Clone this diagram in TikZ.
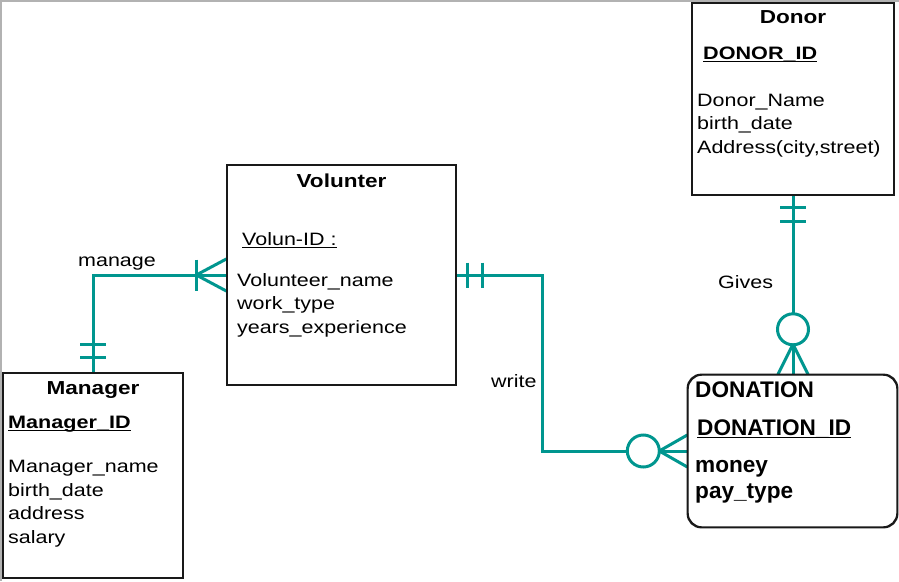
\documentclass[tikz,border=0pt]{standalone}
\usepackage{fontspec}
\usetikzlibrary{calc}
\newfontfamily\erfont[FakeStretch=1.2]{Liberation Sans}
\newfontfamily\dnfont{Liberation Sans}
\definecolor{relteal}{RGB}{0,150,143}
\newcommand\ulid[1]{\setbox0\hbox{#1}\rlap{\rule[-3.3pt]{\wd0}{1.2pt}}\box0}
\tikzset{
  ebox/.style={draw=black!90, line width=1.4pt, fill=white, inner sep=0pt},
  rel/.style={draw=relteal, line width=3pt},
  relc/.style={draw=relteal, line width=3pt, fill=white},
  txt/.style={inner sep=0pt, anchor=base west, font=\erfont\fontsize{17.9}{20}\selectfont, text=black},
  ttl/.style={inner sep=0pt, anchor=base, font=\erfont\bfseries\fontsize{18.8}{20}\selectfont, text=black},
  key/.style={txt, font=\erfont\bfseries\fontsize{18}{20}\selectfont},
  dtxt/.style={inner sep=0pt, anchor=base west, font=\dnfont\bfseries\fontsize{22.6}{24}\selectfont, text=black},
}
\begin{document}
\begin{tikzpicture}[x=1pt,y=-1pt]
\useasboundingbox (0,0) rectangle (899,581);
\fill[white] (0,0) rectangle (899,581);
\draw[black!30, line width=1.5pt] (0.75,581) -- (0.75,0.75) -- (899,0.75);

% entity boxes
\node[ebox, minimum width=180pt, minimum height=205pt] (man) at (93,475.5) {};
\node[ebox, minimum width=229pt, minimum height=220pt] (vol) at (341.5,275) {};
\node[ebox, minimum width=202pt, minimum height=192pt] (donor) at (793,99) {};
\node[ebox, rounded corners=14pt, minimum width=209pt, minimum height=152pt] (dn) at (792.5,451) {};

\coordinate (wbend) at (542,0);

% manage
\draw[rel] (man.north) |- (vol.west);
\draw[rel] ($(man.north)+(-13,-28)$) -- ++(26,0);
\draw[rel] ($(man.north)+(-13,-15)$) -- ++(26,0);
\draw[rel] ($(vol.west)+(-30,-15.5)$) -- ++(0,31);
\draw[rel] ($(vol.west)+(-30,0)$) -- ($(vol.west)+(0,-16)$);
\draw[rel] ($(vol.west)+(-30,0)$) -- ($(vol.west)+(0,16)$);

% write
\draw[rel] (vol.east) -| (wbend |- dn.west) -- (dn.west);
\draw[rel] ($(vol.east)+(11,-12.5)$) -- ++(0,25);
\draw[rel] ($(vol.east)+(26,-12.5)$) -- ++(0,25);
\draw[rel] ($(dn.west)+(-28,0)$) -- ($(dn.west)+(0,-16)$);
\draw[rel] ($(dn.west)+(-28,0)$) -- ($(dn.west)+(0,16)$);
\draw[relc] ($(dn.west)+(-44,0)$) circle (16pt);

% gives
\draw[rel] (donor.south) -- (donor.south |- dn.north);
\draw[rel] ($(donor.south)+(-13,12)$) -- ++(26,0);
\draw[rel] ($(donor.south)+(-13,26)$) -- ++(26,0);
\draw[rel] ($(donor.south |- dn.north)+(0,-30)$) -- ($(donor.south |- dn.north)+(-15,0)$);
\draw[rel] ($(donor.south |- dn.north)+(0,-30)$) -- ($(donor.south |- dn.north)+(15,0)$);
\draw[relc] ($(donor.south |- dn.north)+(0,-45)$) circle (15.5pt);

% redraw box borders over connector ends
\draw[black!90, line width=1.4pt] (man.north west) rectangle (man.south east);
\draw[black!90, line width=1.4pt] (vol.north west) rectangle (vol.south east);
\draw[black!90, line width=1.4pt] (donor.north west) rectangle (donor.south east);
\draw[black!90, line width=1.4pt, rounded corners=14pt] (dn.north west) rectangle (dn.south east);

% Donor
\node[ttl] (donorT) at (793,23) {Donor};
\node[key] (donorK) at (703,59) {\ulid{DONOR\_ID}};
\node[txt] (donorA1) at (697,106) {Donor\_Name};
\node[txt] (donorA2) at (697,129.5) {birth\_date};
\node[txt] (donorA3) at (697,153) {Address(city,street)};

% Volunteer
\node[ttl] (volT) at (341.5,187) {Volunter};
\node[txt] (volK) at (242,245) {\ulid{Volun-ID :}};
\node[txt] (volA1) at (237,286) {Volunteer\_name};
\node[txt] (volA2) at (237,309.5) {work\_type};
\node[txt] (volA3) at (237,333) {years\_experience};

% Manager
\node[ttl] (manT) at (93,394) {Manager};
\node[key] (manK) at (8,428) {\ulid{Manager\_ID}};
\node[txt] (manA1) at (8,472) {Manager\_name};
\node[txt] (manA2) at (8,496) {birth\_date};
\node[txt] (manA3) at (8,519.5) {address};
\node[txt] (manA4) at (8,543) {salary};

% Donation
\node[dtxt] (dnT) at (695,397) {DONATION};
\node[dtxt] (dnK) at (697,435) {\ulid{DONATION\_ID}};
\node[dtxt] (dnA1) at (695,472) {money};
\node[dtxt] (dnA2) at (695,498) {pay\_type};

% relationship labels
\node[txt] (lmanage) at (78,266) {manage};
\node[txt] (lwrite) at (491,387) {write};
\node[txt] (lgives) at (718,288) {Gives};
\end{tikzpicture}
\end{document}
